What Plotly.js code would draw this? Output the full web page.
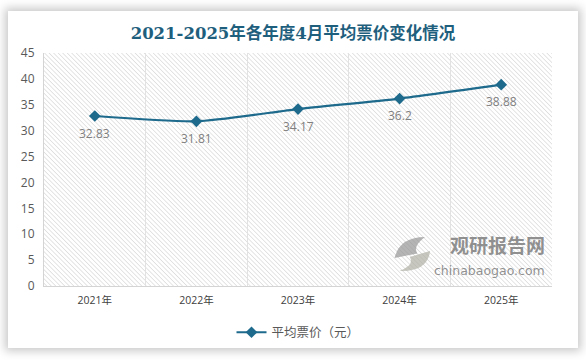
<!DOCTYPE html>
<html>
<head>
<meta charset="utf-8">
<script src="https://cdn.plot.ly/plotly-3.0.1.min.js"></script>
<style>
html,body{margin:0;padding:0;background:#ffffff;width:586px;height:360px;overflow:hidden;}
#card{position:absolute;left:8px;top:11px;width:570px;height:337px;background:#fff;box-shadow:0 0 9px 3px rgba(0,0,0,0.22);}
#chart{position:absolute;left:0;top:0;width:586px;height:360px;}
</style>
</head>
<body>
<div id="card"></div>
<div id="chart"></div>
<script>
const years = ['2021年', '2022年', '2023年', '2024年', '2025年'];
const avgPrice = [32.83, 31.81, 34.17, 36.2, 38.88];
const priceLabels = ['32.83', '31.81', '34.17', '36.2', '38.88'];
const seriesName = '平均票价（元）';
const chartTitle = '2021-2025年各年度4月平均票价变化情况';

const lineColor = '#1d6a8c';

const trace = {
  x: years,
  y: avgPrice,
  type: 'scatter',
  mode: 'lines+markers',
  name: seriesName,
  line: {color: lineColor, width: 2.2, shape: 'spline', smoothing: 0.6},
  marker: {symbol: 'diamond', size: 9, color: lineColor},
  hoverinfo: 'skip'
};

const labelAnnotations = years.map(function (yr, i) {
  return {
    x: yr, y: avgPrice[i], xref: 'x', yref: 'y',
    text: priceLabels[i], showarrow: false,
    yshift: -17, xanchor: 'center', yanchor: 'middle',
    font: {family: 'Open Sans, DejaVu Sans, sans-serif', size: 12, color: '#7f7f7f'}
  };
});

const layout = {
  width: 586, height: 360,
  margin: {l: 44, r: 34, t: 53, b: 74},
  paper_bgcolor: 'rgba(0,0,0,0)',
  plot_bgcolor: '#ffffff',
  title: {
    text: '<b>' + chartTitle + '</b>',
    x: 0.5, xanchor: 'center', y: 0.908, yanchor: 'middle',
    font: {family: 'DejaVu Serif, Noto Sans CJK SC, serif', size: 16.5, color: '#1f5f7e'}
  },
  xaxis: {
    type: 'category',
    tickson: 'boundaries',
    showgrid: true, gridcolor: '#e2e2e2', gridwidth: 1,
    showline: true, linecolor: '#d4d4d4', linewidth: 1,
    ticks: '', ticklen: 0, ticklabelstandoff: 4,
    tickfont: {family: 'Open Sans, Noto Sans CJK SC, sans-serif', size: 10.5, color: '#404040'},
    range: [-0.5, 4.5], fixedrange: true, zeroline: false
  },
  yaxis: {
    range: [0, 45], dtick: 5, tick0: 0,
    showgrid: false, zeroline: false,
    showline: true, linecolor: '#d4d4d4', linewidth: 1,
    ticks: '', ticklabelstandoff: 6,
    tickfont: {family: 'Open Sans, DejaVu Sans, sans-serif', size: 12, color: '#595959'},
    fixedrange: true
  },
  showlegend: true,
  legend: {
    orientation: 'h', x: 0.5, xanchor: 'center', y: -0.2, yanchor: 'middle',
    font: {family: 'Noto Sans CJK SC, sans-serif', size: 12.5, color: '#595959'},
    bgcolor: 'rgba(0,0,0,0)'
  },
  annotations: labelAnnotations.concat([
    {text: '<b>观研报告网</b>', xref: 'paper', yref: 'paper', x: 0.99, y: 0.178, xanchor: 'right', yanchor: 'middle',
     showarrow: false, font: {family: 'Noto Sans CJK SC, sans-serif', size: 19, color: 'rgba(125,125,125,0.85)'}},
    {text: 'chinabaogao.com', xref: 'paper', yref: 'paper', x: 0.99, y: 0.068, xanchor: 'right', yanchor: 'middle',
     showarrow: false, font: {family: 'DejaVu Sans, sans-serif', size: 12.5, color: 'rgba(125,125,125,0.85)'}}
  ]),
  shapes: [
    {type: 'path', xref: 'paper', yref: 'paper',
     path: 'M 0.69 0.12 Q 0.70 0.21 0.75 0.21 Q 0.725 0.17 0.735 0.14 Z',
     fillcolor: 'rgba(150,150,150,0.7)', line: {width: 0}},
    {type: 'path', xref: 'paper', yref: 'paper',
     path: 'M 0.76 0.15 Q 0.755 0.06 0.70 0.065 Q 0.73 0.09 0.72 0.125 Z',
     fillcolor: 'rgba(175,175,165,0.7)', line: {width: 0}}
  ]
};

Plotly.newPlot('chart', [trace], layout, {displayModeBar: false, staticPlot: true}).then(function (gd) {
  const svgNS = 'http://www.w3.org/2000/svg';
  const svg = gd.querySelector('svg.main-svg');
  let defs = svg.querySelector('defs');
  if (!defs) { defs = document.createElementNS(svgNS, 'defs'); svg.insertBefore(defs, svg.firstChild); }
  const pat = document.createElementNS(svgNS, 'pattern');
  pat.setAttribute('id', 'hatchbg');
  pat.setAttribute('patternUnits', 'userSpaceOnUse');
  pat.setAttribute('width', '3.2');
  pat.setAttribute('height', '3.2');
  pat.setAttribute('patternTransform', 'rotate(-45)');
  const bgr = document.createElementNS(svgNS, 'rect');
  bgr.setAttribute('width', '3.2'); bgr.setAttribute('height', '3.2'); bgr.setAttribute('fill', '#ffffff');
  const ln = document.createElementNS(svgNS, 'line');
  ln.setAttribute('x1', '0'); ln.setAttribute('y1', '0'); ln.setAttribute('x2', '0'); ln.setAttribute('y2', '3.2');
  ln.setAttribute('stroke', '#d0d0d0'); ln.setAttribute('stroke-width', '1.1');
  pat.appendChild(bgr); pat.appendChild(ln);
  defs.appendChild(pat);
  const bg = gd.querySelector('.bglayer .bg');
  if (bg) { bg.style.fill = 'url(#hatchbg)'; bg.style.fillOpacity = '1'; }
});
</script>
</body>
</html>
